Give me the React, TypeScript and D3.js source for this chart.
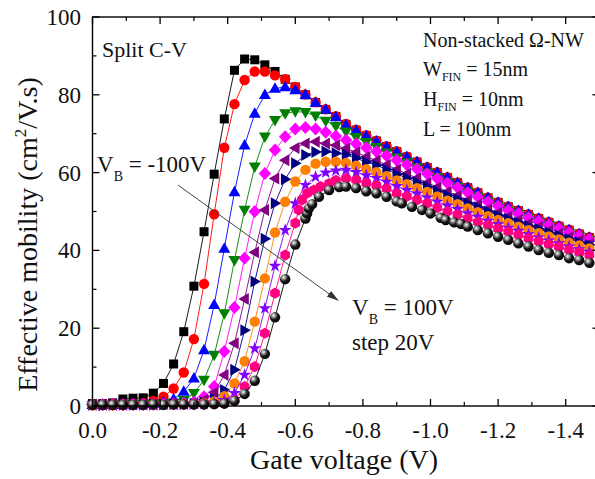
import React from "react";
import * as d3 from "d3";

// Gate voltage grid (V)
const GRID_X = [0, -0.03, -0.06, -0.09, -0.12, -0.15, -0.18, -0.21, -0.24, -0.27, -0.3, -0.33, -0.36, -0.39, -0.42, -0.45, -0.48, -0.51, -0.54, -0.57, -0.6, -0.63, -0.66, -0.69, -0.72, -0.75, -0.78, -0.81, -0.84, -0.87, -0.9, -0.93, -0.96, -0.99, -1.02, -1.05, -1.08, -1.11, -1.14, -1.17, -1.2, -1.23, -1.26, -1.29, -1.32, -1.35, -1.38, -1.41, -1.44, -1.47];

const PINK_X = [0, -0.03, -0.06, -0.09, -0.12, -0.15, -0.18, -0.21, -0.24, -0.27, -0.3, -0.33, -0.36, -0.39, -0.42, -0.45, -0.48, -0.51, -0.54, -0.57, -0.6, -0.61, -0.62, -0.635, -0.655, -0.675, -0.7, -0.72, -0.75, -0.78, -0.81, -0.84, -0.87, -0.9, -0.93, -0.96, -0.99, -1.02, -1.05, -1.08, -1.11, -1.14, -1.17, -1.2, -1.23, -1.26, -1.29, -1.32, -1.35, -1.38, -1.41, -1.44, -1.47];

const SPHERE_X = [0, -0.03, -0.06, -0.09, -0.12, -0.15, -0.18, -0.21, -0.24, -0.27, -0.3, -0.33, -0.36, -0.39, -0.42, -0.45, -0.48, -0.51, -0.54, -0.57, -0.6, -0.63, -0.635, -0.64, -0.65, -0.67, -0.7, -0.73, -0.75, -0.78, -0.81, -0.84, -0.87, -0.9, -0.915, -0.945, -0.975, -1.0, -1.03, -1.045, -1.07, -1.09, -1.11, -1.14, -1.17, -1.2, -1.23, -1.26, -1.29, -1.32, -1.35, -1.38, -1.41, -1.44, -1.47];

// Effective mobility (cm2/V.s) for each back-gate bias
const MU_M100 = [0.6, 0.6, 0.8, 1.8, 2.0, 2.1, 3.3, 5.8, 10.8, 19.1, 30.8, 44.8, 59.6, 73.8, 86.3, 89.2, 89.0, 87.7, 86.0, 84.0, 82.0, 80.0, 78.0, 76.2, 74.4, 72.4, 70.9, 69.5, 68.1, 66.7, 65.4, 64.0, 62.7, 61.3, 60.0, 58.7, 57.4, 56.1, 54.8, 53.5, 52.3, 51.2, 50.2, 49.2, 48.2, 47.2, 46.2, 45.2, 44.2, 43.3];
const MU_M80 = [0.4, 0.4, 0.5, 0.5, 0.6, 0.8, 1.3, 2.4, 4.5, 8.6, 17.2, 31.4, 49.3, 66.4, 77.6, 83.8, 86.0, 86.0, 85.0, 84.0, 82.0, 80.1, 78.1, 76.3, 74.5, 72.5, 71.0, 69.6, 68.2, 66.8, 65.5, 64.1, 62.8, 61.4, 60.1, 58.8, 57.5, 56.2, 54.9, 53.6, 52.4, 51.3, 50.3, 49.3, 48.3, 47.3, 46.3, 45.3, 44.3, 43.4];
const MU_M60 = [0.3, 0.3, 0.4, 0.4, 0.5, 0.5, 0.6, 1.0, 1.8, 3.7, 7.1, 14.4, 26.0, 40.5, 55.0, 67.0, 75.2, 80.0, 81.6, 82.0, 81.2, 80.0, 78.0, 76.2, 74.3, 72.2, 70.8, 69.4, 68.0, 66.6, 65.3, 64.0, 62.7, 61.3, 60.0, 58.7, 57.4, 56.1, 54.8, 53.5, 52.3, 51.2, 50.2, 49.2, 48.2, 47.2, 46.2, 45.2, 44.2, 43.3];
const MU_M40 = [0.3, 0.3, 0.3, 0.4, 0.4, 0.5, 0.5, 0.6, 0.8, 1.5, 3.3, 6.7, 13.1, 23.8, 37.5, 50.4, 61.5, 69.2, 73.5, 75.2, 75.7, 75.5, 74.6, 73.3, 71.9, 70.5, 69.1, 67.8, 66.5, 65.2, 63.9, 62.6, 61.4, 60.0, 58.8, 57.5, 56.3, 55.0, 53.8, 52.6, 51.4, 50.3, 49.4, 48.4, 47.4, 46.5, 45.5, 44.5, 43.6, 42.7];
const MU_M20 = [0.4, 0.3, 0.4, 0.3, 0.4, 0.4, 0.5, 0.5, 0.6, 0.7, 1.0, 2.4, 5.0, 14.0, 25.3, 38.0, 50.0, 59.8, 65.8, 69.2, 71.2, 71.6, 71.2, 70.4, 69.4, 68.4, 67.4, 66.4, 65.4, 64.3, 63.2, 62.0, 60.9, 59.7, 58.5, 57.3, 56.2, 54.9, 53.7, 52.5, 51.4, 50.3, 49.4, 48.4, 47.5, 46.5, 45.6, 44.6, 43.7, 42.8];
const MU_0 = [0.3, 0.3, 0.3, 0.3, 0.4, 0.4, 0.4, 0.5, 0.5, 0.6, 0.8, 1.6, 3.5, 8.0, 16.1, 27.5, 39.5, 50.4, 58.5, 63.2, 66.3, 67.5, 67.9, 67.5, 67.0, 66.2, 65.2, 64.1, 63.1, 62.0, 60.8, 59.7, 58.6, 57.4, 56.3, 55.1, 54.1, 52.9, 51.8, 50.7, 49.7, 48.7, 47.8, 46.9, 46.0, 45.1, 44.3, 43.4, 42.6, 41.7];
const MU_P20 = [0.3, 0.2, 0.3, 0.3, 0.3, 0.4, 0.4, 0.4, 0.5, 0.5, 0.6, 0.9, 1.8, 4.1, 9.3, 19.5, 32.0, 43.0, 52.1, 58.3, 62.4, 64.5, 65.3, 65.4, 65.0, 64.6, 63.7, 62.7, 61.9, 60.8, 59.6, 58.6, 57.5, 56.4, 55.3, 54.2, 53.2, 52.1, 51.1, 50.0, 49.0, 48.1, 47.2, 46.3, 45.5, 44.6, 43.8, 42.9, 42.1, 41.4];
const MU_P40 = [0.2, 0.3, 0.2, 0.3, 0.3, 0.3, 0.4, 0.4, 0.4, 0.5, 0.5, 0.7, 1.2, 2.5, 5.8, 11.5, 21.7, 32.8, 44.6, 52.5, 57.7, 60.7, 62.3, 62.8, 62.8, 62.5, 61.8, 60.9, 60.1, 59.1, 58.0, 57.0, 56.0, 55.0, 53.9, 52.8, 51.9, 50.8, 49.8, 48.8, 47.8, 47.0, 46.1, 45.2, 44.4, 43.6, 42.8, 42.0, 41.3, 40.5];
const MU_P60 = [0.2, 0.2, 0.2, 0.3, 0.3, 0.3, 0.3, 0.4, 0.4, 0.4, 0.5, 0.5, 0.8, 1.5, 3.3, 8.0, 14.8, 25.1, 36.0, 45.2, 52.1, 56.8, 58.9, 60.0, 60.5, 60.7, 60.1, 59.3, 58.6, 57.6, 56.5, 55.5, 54.6, 53.6, 52.5, 51.5, 50.6, 49.5, 48.6, 47.6, 46.7, 45.8, 45.0, 44.1, 43.3, 42.5, 41.8, 41.0, 40.3, 39.6];
const MU_P80 = [0.3, 0.2, 0.3, 0.2, 0.3, 0.3, 0.3, 0.4, 0.4, 0.4, 0.4, 0.5, 0.5, 0.7, 1.5, 5.0, 10.1, 18.7, 29.0, 38.8, 47.0, 50.4, 53.0, 54.7, 55.5, 56.4, 57.2, 58.0, 58.5, 58.1, 57.3, 56.7, 55.9, 54.7, 53.9, 53.0, 52.1, 51.0, 50.0, 49.2, 48.2, 47.3, 46.5, 45.6, 44.8, 44.0, 43.1, 42.3, 41.6, 40.9, 40.1, 39.5, 38.8];
const MU_P100 = [0.3, 0.3, 0.3, 0.3, 0.3, 0.3, 0.4, 0.3, 0.4, 0.4, 0.4, 0.4, 0.5, 0.6, 1.3, 3.1, 6.5, 13.4, 22.8, 32.6, 41.5, 48.2, 49.5, 50.8, 51.9, 53.8, 55.5, 56.3, 56.4, 56.0, 55.2, 54.7, 53.8, 52.6, 52.1, 51.2, 50.4, 49.5, 48.4, 47.8, 47.2, 46.8, 46.1, 45.2, 44.4, 43.5, 42.7, 41.8, 41.0, 40.1, 39.4, 38.8, 38.0, 37.5, 36.8];

const X_MAJOR = [0, -0.2, -0.4, -0.6, -0.8, -1.0, -1.2, -1.4];
const X_MINOR = [-0.1, -0.3, -0.5, -0.7, -0.9, -1.1, -1.3, -1.5];
const Y_MAJOR = [0, 20, 40, 60, 80, 100];
const Y_MINOR = [10, 30, 50, 70, 90];

type Shape = "square" | "circle" | "triUp" | "triDown" | "diamond" | "triLeft" | "triRight" | "star" | "hexagon" | "sphere";

const SERIES: { xs: number[]; ys: number[]; color: string; shape: Shape }[] = [
  { xs: GRID_X, ys: MU_M100, color: "#000000", shape: "square" },
  { xs: GRID_X, ys: MU_M80, color: "#ff0000", shape: "circle" },
  { xs: GRID_X, ys: MU_M60, color: "#0000ff", shape: "triUp" },
  { xs: GRID_X, ys: MU_M40, color: "#008000", shape: "triDown" },
  { xs: GRID_X, ys: MU_M20, color: "#ff00ff", shape: "diamond" },
  { xs: GRID_X, ys: MU_0, color: "#800080", shape: "triLeft" },
  { xs: GRID_X, ys: MU_P20, color: "#000080", shape: "triRight" },
  { xs: GRID_X, ys: MU_P40, color: "#ff8000", shape: "circle" },
  { xs: GRID_X, ys: MU_P60, color: "#8000ff", shape: "star" },
  { xs: PINK_X, ys: MU_P80, color: "#ff0080", shape: "hexagon" },
  { xs: SPHERE_X, ys: MU_P100, color: "#000000", shape: "sphere" },
];

const starPath = d3.symbol(d3.symbolStar, 52)() as string;
const hexPath = (() => {
  const r = 5.6;
  const pts = [0, 1, 2, 3, 4, 5].map((k) => {
    const a = (Math.PI / 3) * k + Math.PI / 6;
    return [r * Math.cos(a), r * Math.sin(a)];
  });
  return "M" + pts.map((p) => p[0].toFixed(2) + "," + p[1].toFixed(2)).join("L") + "Z";
})();

function Marker({ shape, color }: { shape: Shape; color: string }) {
  switch (shape) {
    case "square":
      return <rect x={-4.5} y={-4.5} width={9} height={9} fill={color} />;
    case "circle":
      return <circle r={5.2} fill={color} />;
    case "triUp":
      return <path d="M0,-6.3L6,4.2L-6,4.2Z" fill={color} />;
    case "triDown":
      return <path d="M0,6.3L6,-4.2L-6,-4.2Z" fill={color} />;
    case "triLeft":
      return <path d="M-6.3,0L4.2,-6L4.2,6Z" fill={color} />;
    case "triRight":
      return <path d="M6.3,0L-4.2,-6L-4.2,6Z" fill={color} />;
    case "diamond":
      return <path d="M0,-6.5L6.2,0L0,6.5L-6.2,0Z" fill={color} />;
    case "star":
      return <path d={starPath} fill={color} />;
    case "hexagon":
      return <path d={hexPath} fill={color} />;
    case "sphere":
      return <circle r={5.2} fill="url(#sphereGrad)" />;
  }
  return null;
}

export default function App() {
  const x = d3.scaleLinear().domain([0, -1.5]).range([92.5, 599.5]);
  const y = d3.scaleLinear().domain([0, 100]).range([406, 17]);
  const line = d3
    .line<[number, number]>()
    .x((d) => x(d[0]))
    .y((d) => y(d[1]));
  const x0 = x(0), x1 = x(-1.5), y0 = y(0), y1 = y(100);
  const fmtX = (v: number) => (v === 0 ? "0.0" : "-" + Math.abs(v).toFixed(1));
  const font = "'Liberation Serif','Times New Roman',serif";

  // arrow endpoints in data coordinates
  const arrStart: [number, number] = [-0.253, 56.8];
  const arrEnd: [number, number] = [-0.726, 27.2];

  return (
    <svg
      width={595}
      height={479}
      style={{ position: "absolute", left: 0, top: 0, background: "#fff" }}
      fontFamily={font}
    >
      <defs>
        <radialGradient id="sphereGrad" cx="0.36" cy="0.32" r="0.72">
          <stop offset="0" stopColor="#ffffff" />
          <stop offset="0.22" stopColor="#a0a0a0" />
          <stop offset="0.55" stopColor="#1a1a1a" />
          <stop offset="1" stopColor="#000000" />
        </radialGradient>
        <marker id="arrowHead" viewBox="0 0 12 8" refX="11" refY="4" markerWidth="12" markerHeight="8" markerUnits="userSpaceOnUse" orient="auto">
          <path d="M0,0.5L12,4L0,7.5Z" fill="#333" />
        </marker>
      </defs>
      <rect x={0} y={0} width={595} height={479} fill="#fff" />

      {SERIES.map((s, si) => {
        const pts: [number, number][] = s.xs.map((v, i) => [v, s.ys[i]]);
        return (
          <g key={si}>
            <path d={line(pts) || ""} fill="none" stroke={s.color} strokeWidth={0.9} />
            {pts.map((p, i) => (
              <g key={i} transform={`translate(${x(p[0])},${y(p[1])})`}>
                <Marker shape={s.shape} color={s.color} />
              </g>
            ))}
          </g>
        );
      })}

      {/* frame */}
      <rect x={x0} y={y1} width={x1 - x0} height={y0 - y1} fill="none" stroke="#000" strokeWidth={1.4} />

      {/* x ticks */}
      {X_MAJOR.map((v) => (
        <g key={"xm" + v}>
          <line x1={x(v)} x2={x(v)} y1={y0} y2={y0 - 7} stroke="#000" strokeWidth={1.3} />
          <line x1={x(v)} x2={x(v)} y1={y1} y2={y1 + 7} stroke="#000" strokeWidth={1.3} />
          <text x={x(v)} y={438} fontSize={23} textAnchor="middle" fill="#111">
            {fmtX(v)}
          </text>
        </g>
      ))}
      {X_MINOR.map((v) => (
        <g key={"xn" + v}>
          <line x1={x(v)} x2={x(v)} y1={y0} y2={y0 - 4} stroke="#000" strokeWidth={1.2} />
          <line x1={x(v)} x2={x(v)} y1={y1} y2={y1 + 4} stroke="#000" strokeWidth={1.2} />
        </g>
      ))}

      {/* y ticks */}
      {Y_MAJOR.map((v) => (
        <g key={"ym" + v}>
          <line x1={x0} x2={x0 + 7} y1={y(v)} y2={y(v)} stroke="#000" strokeWidth={1.3} />
          <line x1={x1} x2={x1 - 7} y1={y(v)} y2={y(v)} stroke="#000" strokeWidth={1.3} />
          <text x={81} y={y(v) + 8} fontSize={23} textAnchor="end" fill="#111">
            {String(v)}
          </text>
        </g>
      ))}
      {Y_MINOR.map((v) => (
        <g key={"yn" + v}>
          <line x1={x0} x2={x0 + 4} y1={y(v)} y2={y(v)} stroke="#000" strokeWidth={1.2} />
          <line x1={x1} x2={x1 - 4} y1={y(v)} y2={y(v)} stroke="#000" strokeWidth={1.2} />
        </g>
      ))}

      {/* axis titles */}
      <text x={344} y={469} fontSize={28} textAnchor="middle" fill="#111">
        Gate voltage (V)
      </text>
      <text transform="translate(37,234.5) rotate(-90)" fontSize={28} textAnchor="middle" fill="#111">
        Effective mobility (cm<tspan fontSize={17} dy={-11}>2</tspan>
        <tspan dy={11}>/V.s)</tspan>
      </text>

      {/* annotations */}
      <text x={102} y={57} fontSize={22} fill="#111">Split C-V</text>
      <g fontSize={20} fill="#111">
        <text x={423} y={47}>Non-stacked Ω-NW</text>
        <text x={423} y={76}>
          W<tspan fontSize={12} dy={5}>FIN</tspan>
          <tspan dy={-5}> = 15nm</tspan>
        </text>
        <text x={423} y={106}>
          H<tspan fontSize={12} dy={5}>FIN</tspan>
          <tspan dy={-5}> = 10nm</tspan>
        </text>
        <text x={423} y={136}>L = 100nm</text>
      </g>
      <text x={97} y={172} fontSize={23} fill="#111">
        V<tspan fontSize={14} dy={9}>B</tspan>
        <tspan dy={-9}> = -100V</tspan>
      </text>
      <text x={352} y={315} fontSize={23} fill="#111">
        V<tspan fontSize={14} dy={9}>B</tspan>
        <tspan dy={-9}> = 100V</tspan>
      </text>
      <text x={352} y={350} fontSize={23} fill="#111">step 20V</text>

      <line
        x1={x(arrStart[0])}
        y1={y(arrStart[1])}
        x2={x(arrEnd[0])}
        y2={y(arrEnd[1])}
        stroke="#444"
        strokeWidth={1}
        markerEnd="url(#arrowHead)"
      />
    </svg>
  );
}
